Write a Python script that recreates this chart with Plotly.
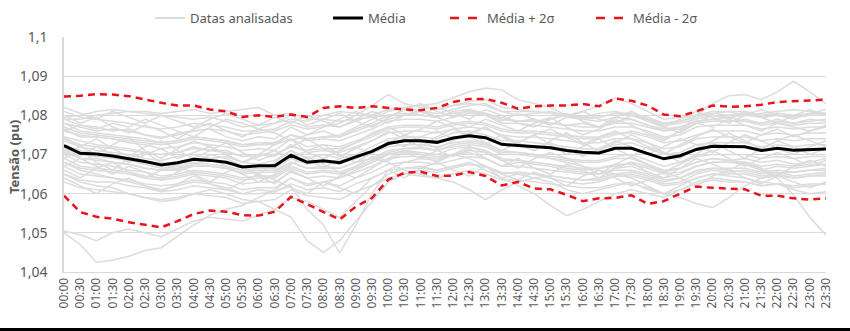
import plotly.graph_objects as go

# Half-hour time stamps (x categories)
horarios = [f"{h:02d}:{m:02d}" for h in range(24) for m in (0, 30)]

# Voltage statistics per time stamp (pu)
media = [1.0723, 1.0703, 1.0701, 1.0696, 1.0689, 1.0682, 1.0673, 1.0679, 1.0688, 1.0685,
         1.0680, 1.0668, 1.0671, 1.0671, 1.0698, 1.0680, 1.0684, 1.0679, 1.0694, 1.0708,
         1.0728, 1.0735, 1.0735, 1.0731, 1.0742, 1.0748, 1.0743, 1.0726, 1.0723, 1.0720,
         1.0717, 1.0710, 1.0706, 1.0704, 1.0716, 1.0716, 1.0703, 1.0689, 1.0697, 1.0713,
         1.0721, 1.0720, 1.0720, 1.0710, 1.0716, 1.0711, 1.0713, 1.0714]

media_mais_2s = [1.0848, 1.0850, 1.0854, 1.0853, 1.0849, 1.0840, 1.0832, 1.0825, 1.0825, 1.0815,
                 1.0810, 1.0796, 1.0800, 1.0796, 1.0802, 1.0796, 1.0819, 1.0823, 1.0819, 1.0823,
                 1.0819, 1.0815, 1.0813, 1.0819, 1.0834, 1.0842, 1.0842, 1.0832, 1.0817, 1.0823,
                 1.0825, 1.0825, 1.0829, 1.0823, 1.0843, 1.0837, 1.0825, 1.0802, 1.0798, 1.0810,
                 1.0825, 1.0822, 1.0823, 1.0827, 1.0834, 1.0836, 1.0838, 1.0840]

media_menos_2s = [1.0595, 1.0553, 1.0541, 1.0536, 1.0527, 1.0520, 1.0514, 1.0530, 1.0548, 1.0557,
                  1.0554, 1.0545, 1.0544, 1.0554, 1.0592, 1.0573, 1.0553, 1.0534, 1.0567, 1.0589,
                  1.0636, 1.0653, 1.0656, 1.0645, 1.0646, 1.0655, 1.0645, 1.0621, 1.0630, 1.0613,
                  1.0611, 1.0597, 1.0581, 1.0588, 1.0589, 1.0596, 1.0574, 1.0581, 1.0600, 1.0618,
                  1.0615, 1.0613, 1.0611, 1.0595, 1.0595, 1.0588, 1.0585, 1.0588]

# Measured profiles of the analysed dates (pu)
datas_analisadas = [
    [1.0795,1.0800,1.0810,1.0815,1.0810,1.0805,1.0800,1.0795,1.0790,1.0795,1.0785,1.0770,1.0775,1.0780,1.0790,1.0785,1.0800,1.0810,1.0805,1.0800,1.0815,1.0820,1.0810,1.0805,1.0815,1.0825,1.0830,1.0810,1.0800,1.0805,1.0810,1.0800,1.0795,1.0805,1.0810,1.0800,1.0790,1.0780,1.0785,1.0795,1.0805,1.0810,1.0800,1.0805,1.0810,1.0815,1.0810,1.0805],
    [1.0500,1.0470,1.0425,1.0430,1.0440,1.0455,1.0462,1.0490,1.0520,1.0545,1.0560,1.0570,1.0590,1.0610,1.0640,1.0620,1.0630,1.0640,1.0660,1.0680,1.0700,1.0710,1.0705,1.0700,1.0715,1.0720,1.0710,1.0690,1.0685,1.0680,1.0675,1.0665,1.0660,1.0665,1.0670,1.0680,1.0670,1.0655,1.0665,1.0680,1.0690,1.0685,1.0690,1.0680,1.0685,1.0675,1.0680,1.0690],
    [1.0505,1.0495,1.0480,1.0500,1.0510,1.0500,1.0490,1.0510,1.0530,1.0540,1.0535,1.0530,1.0545,1.0560,1.0590,1.0580,1.0560,1.0540,1.0580,1.0620,1.0650,1.0665,1.0670,1.0660,1.0670,1.0680,1.0660,1.0640,1.0650,1.0640,1.0630,1.0610,1.0600,1.0610,1.0620,1.0630,1.0610,1.0600,1.0620,1.0640,1.0650,1.0645,1.0640,1.0630,1.0625,1.0610,1.0600,1.0605],
    [1.0650,1.0630,1.0620,1.0615,1.0600,1.0590,1.0580,1.0585,1.0600,1.0610,1.0600,1.0585,1.0580,1.0560,1.0540,1.0480,1.0450,1.0480,1.0530,1.0580,1.0630,1.0650,1.0660,1.0655,1.0665,1.0675,1.0670,1.0650,1.0655,1.0650,1.0640,1.0630,1.0625,1.0630,1.0645,1.0650,1.0640,1.0625,1.0630,1.0650,1.0660,1.0655,1.0660,1.0650,1.0655,1.0645,1.0650,1.0655],
    [1.0680,1.0660,1.0650,1.0640,1.0630,1.0620,1.0610,1.0620,1.0630,1.0625,1.0615,1.0600,1.0610,1.0605,1.0620,1.0560,1.0520,1.0448,1.0520,1.0600,1.0660,1.0680,1.0690,1.0685,1.0700,1.0705,1.0690,1.0670,1.0680,1.0675,1.0670,1.0660,1.0655,1.0650,1.0665,1.0670,1.0655,1.0640,1.0650,1.0670,1.0680,1.0680,1.0675,1.0660,1.0670,1.0665,1.0670,1.0675],
    [1.0760,1.0750,1.0745,1.0740,1.0735,1.0730,1.0725,1.0730,1.0740,1.0735,1.0730,1.0720,1.0725,1.0725,1.0750,1.0740,1.0745,1.0750,1.0770,1.0790,1.0810,1.0820,1.0825,1.0830,1.0845,1.0860,1.0870,1.0865,1.0840,1.0830,1.0820,1.0800,1.0790,1.0785,1.0795,1.0790,1.0775,1.0760,1.0770,1.0785,1.0790,1.0785,1.0790,1.0780,1.0785,1.0780,1.0785,1.0790],
    [1.0780,1.0770,1.0760,1.0765,1.0760,1.0750,1.0745,1.0750,1.0760,1.0765,1.0760,1.0750,1.0755,1.0760,1.0775,1.0765,1.0770,1.0780,1.0800,1.0825,1.0853,1.0830,1.0820,1.0815,1.0825,1.0835,1.0840,1.0820,1.0815,1.0810,1.0805,1.0795,1.0790,1.0795,1.0805,1.0800,1.0790,1.0775,1.0780,1.0790,1.0800,1.0795,1.0800,1.0795,1.0800,1.0795,1.0800,1.0800],
    [1.0740,1.0725,1.0720,1.0715,1.0710,1.0705,1.0700,1.0705,1.0715,1.0710,1.0705,1.0695,1.0700,1.0700,1.0720,1.0710,1.0715,1.0715,1.0730,1.0745,1.0765,1.0770,1.0770,1.0765,1.0775,1.0780,1.0775,1.0760,1.0755,1.0755,1.0750,1.0745,1.0740,1.0740,1.0750,1.0760,1.0750,1.0735,1.0760,1.0800,1.0830,1.0850,1.0853,1.0840,1.0860,1.0887,1.0860,1.0830],
    [1.0700,1.0680,1.0675,1.0670,1.0660,1.0655,1.0645,1.0650,1.0660,1.0655,1.0650,1.0640,1.0645,1.0645,1.0670,1.0655,1.0660,1.0655,1.0670,1.0685,1.0705,1.0715,1.0715,1.0710,1.0720,1.0725,1.0720,1.0700,1.0700,1.0695,1.0690,1.0685,1.0680,1.0680,1.0690,1.0690,1.0675,1.0660,1.0665,1.0680,1.0690,1.0685,1.0680,1.0660,1.0640,1.0596,1.0540,1.0494],
    [1.0690,1.0670,1.0665,1.0660,1.0655,1.0645,1.0640,1.0645,1.0655,1.0650,1.0645,1.0635,1.0640,1.0640,1.0665,1.0650,1.0655,1.0650,1.0665,1.0680,1.0700,1.0705,1.0700,1.0695,1.0700,1.0690,1.0670,1.0640,1.0620,1.0600,1.0570,1.0544,1.0560,1.0580,1.0600,1.0610,1.0600,1.0590,1.0610,1.0630,1.0640,1.0635,1.0630,1.0620,1.0625,1.0615,1.0620,1.0625],
    [1.0710,1.0690,1.0685,1.0680,1.0675,1.0665,1.0660,1.0665,1.0675,1.0670,1.0665,1.0655,1.0660,1.0660,1.0680,1.0665,1.0670,1.0665,1.0680,1.0690,1.0680,1.0660,1.0650,1.0640,1.0630,1.0610,1.0585,1.0610,1.0630,1.0640,1.0645,1.0640,1.0635,1.0640,1.0650,1.0655,1.0645,1.0630,1.0640,1.0655,1.0665,1.0660,1.0655,1.0645,1.0650,1.0640,1.0645,1.0650],
    [1.0720,1.0700,1.0695,1.0690,1.0685,1.0675,1.0665,1.0670,1.0680,1.0675,1.0670,1.0660,1.0665,1.0665,1.0690,1.0675,1.0680,1.0675,1.0690,1.0705,1.0720,1.0725,1.0725,1.0720,1.0730,1.0735,1.0730,1.0710,1.0705,1.0700,1.0690,1.0680,1.0670,1.0660,1.0650,1.0640,1.0620,1.0600,1.0590,1.0575,1.0564,1.0590,1.0620,1.0640,1.0650,1.0655,1.0660,1.0665],
    [1.0770,1.0755,1.0750,1.0745,1.0740,1.0735,1.0730,1.0735,1.0745,1.0740,1.0735,1.0725,1.0730,1.0730,1.0750,1.0740,1.0745,1.0745,1.0760,1.0775,1.0790,1.0800,1.0800,1.0795,1.0805,1.0810,1.0805,1.0790,1.0785,1.0785,1.0790,1.0800,1.0810,1.0825,1.0845,1.0830,1.0810,1.0790,1.0795,1.0800,1.0805,1.0800,1.0805,1.0795,1.0800,1.0795,1.0800,1.0800],
    [1.0765,1.0745,1.0745,1.0740,1.0730,1.0725,1.0715,1.0720,1.0730,1.0725,1.0720,1.0710,1.0715,1.0710,1.0740,1.0720,1.0725,1.0720,1.0735,1.0750,1.0770,1.0775,1.0775,1.0770,1.0780,1.0785,1.0780,1.0765,1.0760,1.0760,1.0755,1.0750,1.0745,1.0745,1.0755,1.0755,1.0745,1.0730,1.0735,1.0750,1.0760,1.0760,1.0760,1.0750,1.0755,1.0750,1.0755,1.0755],
    [1.0680,1.0665,1.0660,1.0655,1.0650,1.0640,1.0635,1.0640,1.0650,1.0645,1.0640,1.0625,1.0630,1.0630,1.0655,1.0640,1.0645,1.0640,1.0655,1.0670,1.0690,1.0695,1.0695,1.0690,1.0700,1.0710,1.0705,1.0685,1.0685,1.0680,1.0675,1.0670,1.0665,1.0665,1.0675,1.0675,1.0665,1.0650,1.0655,1.0670,1.0680,1.0680,1.0680,1.0670,1.0675,1.0670,1.0675,1.0675],
    [1.0790,1.0775,1.0770,1.0760,1.0765,1.0750,1.0740,1.0755,1.0760,1.0765,1.0745,1.0735,1.0745,1.0740,1.0770,1.0750,1.0760,1.0745,1.0765,1.0780,1.0800,1.0800,1.0810,1.0795,1.0810,1.0815,1.0805,1.0795,1.0785,1.0790,1.0780,1.0775,1.0780,1.0770,1.0785,1.0790,1.0775,1.0765,1.0770,1.0785,1.0790,1.0795,1.0785,1.0780,1.0790,1.0780,1.0790,1.0785],
    [1.0650,1.0635,1.0630,1.0630,1.0620,1.0615,1.0605,1.0610,1.0620,1.0615,1.0610,1.0600,1.0600,1.0605,1.0625,1.0610,1.0615,1.0605,1.0625,1.0640,1.0660,1.0665,1.0665,1.0660,1.0670,1.0675,1.0670,1.0655,1.0650,1.0650,1.0645,1.0640,1.0635,1.0635,1.0645,1.0645,1.0635,1.0620,1.0625,1.0640,1.0650,1.0650,1.0650,1.0640,1.0645,1.0640,1.0645,1.0645],
    [1.0735,1.0720,1.0710,1.0705,1.0700,1.0690,1.0685,1.0695,1.0700,1.0690,1.0695,1.0680,1.0675,1.0685,1.0710,1.0690,1.0700,1.0690,1.0700,1.0720,1.0740,1.0745,1.0745,1.0740,1.0755,1.0760,1.0750,1.0735,1.0735,1.0730,1.0725,1.0720,1.0715,1.0715,1.0725,1.0730,1.0715,1.0700,1.0705,1.0725,1.0730,1.0730,1.0730,1.0720,1.0725,1.0720,1.0725,1.0725],
    [1.0705,1.0690,1.0690,1.0680,1.0675,1.0665,1.0660,1.0660,1.0670,1.0670,1.0665,1.0650,1.0655,1.0655,1.0680,1.0665,1.0665,1.0665,1.0680,1.0690,1.0710,1.0715,1.0720,1.0710,1.0725,1.0730,1.0725,1.0705,1.0705,1.0700,1.0695,1.0690,1.0685,1.0685,1.0695,1.0700,1.0685,1.0670,1.0680,1.0695,1.0700,1.0700,1.0700,1.0690,1.0695,1.0690,1.0695,1.0695],
    [1.0780,1.0760,1.0755,1.0750,1.0745,1.0740,1.0730,1.0735,1.0745,1.0740,1.0735,1.0725,1.0725,1.0730,1.0750,1.0735,1.0740,1.0735,1.0750,1.0765,1.0785,1.0790,1.0790,1.0785,1.0795,1.0805,1.0800,1.0780,1.0780,1.0775,1.0770,1.0765,1.0760,1.0760,1.0770,1.0770,1.0760,1.0745,1.0750,1.0770,1.0775,1.0775,1.0775,1.0765,1.0770,1.0765,1.0770,1.0770],
    [1.0670,1.0650,1.0645,1.0640,1.0635,1.0625,1.0620,1.0625,1.0635,1.0630,1.0625,1.0610,1.0615,1.0615,1.0640,1.0625,1.0630,1.0620,1.0640,1.0655,1.0675,1.0680,1.0680,1.0675,1.0685,1.0695,1.0690,1.0670,1.0670,1.0665,1.0660,1.0655,1.0650,1.0650,1.0660,1.0660,1.0650,1.0635,1.0640,1.0660,1.0665,1.0665,1.0665,1.0655,1.0660,1.0655,1.0660,1.0660],
    [1.0745,1.0735,1.0725,1.0720,1.0715,1.0705,1.0700,1.0705,1.0720,1.0710,1.0710,1.0695,1.0700,1.0695,1.0725,1.0705,1.0710,1.0705,1.0720,1.0735,1.0755,1.0760,1.0760,1.0755,1.0765,1.0770,1.0765,1.0750,1.0745,1.0745,1.0740,1.0735,1.0730,1.0730,1.0740,1.0740,1.0730,1.0715,1.0720,1.0740,1.0745,1.0745,1.0745,1.0735,1.0740,1.0735,1.0740,1.0740],
    [1.0630,1.0615,1.0610,1.0605,1.0600,1.0590,1.0585,1.0590,1.0600,1.0595,1.0590,1.0575,1.0580,1.0585,1.0610,1.0595,1.0590,1.0585,1.0605,1.0620,1.0640,1.0650,1.0645,1.0640,1.0650,1.0660,1.0650,1.0635,1.0635,1.0630,1.0625,1.0620,1.0615,1.0615,1.0625,1.0625,1.0615,1.0600,1.0610,1.0625,1.0635,1.0630,1.0630,1.0620,1.0625,1.0620,1.0625,1.0625],
    [1.0810,1.0795,1.0790,1.0785,1.0780,1.0770,1.0765,1.0770,1.0780,1.0775,1.0770,1.0760,1.0760,1.0765,1.0785,1.0770,1.0775,1.0770,1.0785,1.0800,1.0815,1.0820,1.0825,1.0815,1.0825,1.0830,1.0825,1.0810,1.0810,1.0810,1.0805,1.0800,1.0795,1.0795,1.0805,1.0805,1.0795,1.0780,1.0785,1.0800,1.0810,1.0810,1.0810,1.0800,1.0805,1.0800,1.0805,1.0805],
    [1.0725,1.0710,1.0700,1.0700,1.0690,1.0680,1.0680,1.0675,1.0690,1.0690,1.0680,1.0670,1.0670,1.0675,1.0695,1.0685,1.0680,1.0685,1.0690,1.0710,1.0725,1.0740,1.0730,1.0735,1.0740,1.0750,1.0745,1.0725,1.0725,1.0720,1.0720,1.0710,1.0705,1.0705,1.0715,1.0720,1.0700,1.0690,1.0695,1.0715,1.0720,1.0720,1.0720,1.0710,1.0715,1.0710,1.0715,1.0715],
    [1.0790,1.0790,1.0800,1.0805,1.0810,1.0810,1.0805,1.0810,1.0815,1.0805,1.0810,1.0815,1.0820,1.0800,1.0805,1.0790,1.0790,1.0785,1.0790,1.0795,1.0800,1.0805,1.0800,1.0795,1.0805,1.0810,1.0805,1.0790,1.0785,1.0785,1.0780,1.0775,1.0770,1.0770,1.0780,1.0780,1.0770,1.0760,1.0765,1.0780,1.0785,1.0785,1.0785,1.0775,1.0780,1.0775,1.0780,1.0780],
    [1.0760,1.0775,1.0765,1.0780,1.0770,1.0790,1.0775,1.0760,1.0745,1.0770,1.0790,1.0780,1.0765,1.0755,1.0735,1.0750,1.0770,1.0790,1.0810,1.0795,1.0780,1.0800,1.0815,1.0795,1.0780,1.0770,1.0790,1.0775,1.0760,1.0780,1.0795,1.0770,1.0750,1.0765,1.0790,1.0775,1.0755,1.0740,1.0760,1.0780,1.0770,1.0790,1.0775,1.0760,1.0780,1.0770,1.0760,1.0775],
    [1.0690,1.0710,1.0680,1.0660,1.0690,1.0705,1.0680,1.0660,1.0675,1.0700,1.0690,1.0670,1.0650,1.0680,1.0710,1.0690,1.0665,1.0690,1.0720,1.0700,1.0735,1.0720,1.0745,1.0760,1.0740,1.0755,1.0730,1.0710,1.0730,1.0750,1.0725,1.0700,1.0720,1.0740,1.0715,1.0695,1.0720,1.0705,1.0680,1.0700,1.0730,1.0710,1.0690,1.0715,1.0735,1.0720,1.0700,1.0715],
    [1.0745,1.0720,1.0700,1.0725,1.0745,1.0710,1.0690,1.0715,1.0735,1.0720,1.0700,1.0680,1.0700,1.0725,1.0740,1.0705,1.0690,1.0710,1.0730,1.0755,1.0770,1.0750,1.0765,1.0785,1.0770,1.0750,1.0770,1.0745,1.0730,1.0750,1.0765,1.0745,1.0725,1.0745,1.0760,1.0740,1.0720,1.0700,1.0725,1.0745,1.0765,1.0745,1.0730,1.0750,1.0765,1.0745,1.0760,1.0770],
    [1.0660,1.0640,1.0665,1.0680,1.0655,1.0640,1.0660,1.0675,1.0650,1.0630,1.0655,1.0670,1.0645,1.0625,1.0660,1.0640,1.0620,1.0645,1.0670,1.0695,1.0685,1.0705,1.0690,1.0710,1.0695,1.0715,1.0690,1.0670,1.0690,1.0665,1.0650,1.0675,1.0660,1.0640,1.0665,1.0680,1.0655,1.0640,1.0665,1.0690,1.0675,1.0660,1.0680,1.0665,1.0645,1.0670,1.0685,1.0670],
    [1.0800,1.0780,1.0795,1.0770,1.0755,1.0775,1.0760,1.0740,1.0765,1.0780,1.0760,1.0745,1.0765,1.0780,1.0800,1.0775,1.0790,1.0805,1.0785,1.0770,1.0795,1.0815,1.0800,1.0820,1.0805,1.0790,1.0815,1.0800,1.0780,1.0770,1.0790,1.0805,1.0785,1.0770,1.0795,1.0810,1.0790,1.0770,1.0755,1.0780,1.0800,1.0790,1.0810,1.0795,1.0780,1.0800,1.0815,1.0800],
    [1.0715,1.0695,1.0720,1.0700,1.0680,1.0700,1.0715,1.0690,1.0705,1.0720,1.0700,1.0680,1.0695,1.0710,1.0690,1.0710,1.0725,1.0700,1.0680,1.0705,1.0730,1.0750,1.0735,1.0715,1.0735,1.0755,1.0770,1.0745,1.0725,1.0710,1.0730,1.0715,1.0695,1.0715,1.0735,1.0720,1.0700,1.0720,1.0740,1.0725,1.0705,1.0730,1.0750,1.0735,1.0715,1.0700,1.0720,1.0735],
    [1.0640,1.0620,1.0600,1.0625,1.0640,1.0620,1.0605,1.0625,1.0645,1.0625,1.0610,1.0630,1.0650,1.0635,1.0615,1.0600,1.0630,1.0615,1.0600,1.0640,1.0660,1.0640,1.0665,1.0680,1.0660,1.0645,1.0670,1.0650,1.0635,1.0655,1.0640,1.0620,1.0645,1.0660,1.0640,1.0620,1.0635,1.0655,1.0640,1.0620,1.0645,1.0660,1.0640,1.0625,1.0645,1.0630,1.0615,1.0630],
    [1.0820,1.0805,1.0790,1.0810,1.0795,1.0780,1.0800,1.0785,1.0770,1.0790,1.0805,1.0790,1.0775,1.0795,1.0780,1.0800,1.0785,1.0770,1.0790,1.0810,1.0795,1.0815,1.0830,1.0810,1.0795,1.0815,1.0800,1.0785,1.0805,1.0790,1.0775,1.0795,1.0810,1.0790,1.0780,1.0800,1.0785,1.0770,1.0790,1.0810,1.0795,1.0780,1.0800,1.0815,1.0800,1.0790,1.0805,1.0815],
    [1.0700,1.0720,1.0740,1.0715,1.0695,1.0720,1.0735,1.0710,1.0690,1.0710,1.0730,1.0705,1.0685,1.0700,1.0720,1.0740,1.0715,1.0695,1.0715,1.0735,1.0760,1.0740,1.0720,1.0745,1.0765,1.0745,1.0725,1.0750,1.0730,1.0710,1.0735,1.0755,1.0730,1.0710,1.0730,1.0750,1.0730,1.0705,1.0690,1.0715,1.0735,1.0755,1.0735,1.0715,1.0735,1.0750,1.0735,1.0720],
    [1.0670,1.0690,1.0670,1.0650,1.0670,1.0655,1.0635,1.0655,1.0675,1.0690,1.0670,1.0650,1.0630,1.0650,1.0675,1.0695,1.0675,1.0655,1.0640,1.0665,1.0690,1.0710,1.0700,1.0680,1.0700,1.0720,1.0705,1.0685,1.0665,1.0690,1.0705,1.0690,1.0670,1.0650,1.0675,1.0695,1.0675,1.0655,1.0675,1.0695,1.0710,1.0690,1.0670,1.0690,1.0705,1.0690,1.0670,1.0685],
]

y_ticks = [1.04, 1.05, 1.06, 1.07, 1.08, 1.09, 1.10]
y_tick_text = ["1,04", "1,05", "1,06", "1,07", "1,08", "1,09", "1,1"]

FONT = "Noto Sans"
TXT = "#595959"
GRID = "#d9d9d9"
GRAY = "#dcdcdc"
RED = "#e8141c"
DASH = "7px,5px"

# Plot area in pixels (used to place the hand-drawn legend and the bottom rule)
L, R, T, B, W, H = 64, 24, 37, 59, 850, 331
PW, PH = W - L - R, H - T - B


def px_x(px):
    return (px - L) / PW


def px_y(py):
    return (H - B - py) / PH


fig = go.Figure()

for serie in datas_analisadas:
    fig.add_trace(go.Scatter(
        x=horarios, y=serie, mode="lines",
        line=dict(color=GRAY, width=1.5),
        name="Datas analisadas", showlegend=False, hoverinfo="skip",
    ))

fig.add_trace(go.Scatter(x=horarios, y=media, mode="lines", name="Média",
                         line=dict(color="black", width=3), showlegend=False))
fig.add_trace(go.Scatter(x=horarios, y=media_mais_2s, mode="lines", name="Média + 2σ",
                         line=dict(color=RED, width=2.5, dash=DASH), showlegend=False))
fig.add_trace(go.Scatter(x=horarios, y=media_menos_2s, mode="lines", name="Média - 2σ",
                         line=dict(color=RED, width=2.5, dash=DASH), showlegend=False))

# Legend row: (sample start px, sample end px, label, line style)
legenda = [
    (155, 185, "Datas analisadas", dict(color=GRAY, width=2)),
    (333, 363, "Média", dict(color="black", width=3)),
    (450, 482, "Média + 2σ", dict(color=RED, width=2.5, dash="dash")),
    (596, 628, "Média - 2σ", dict(color=RED, width=2.5, dash="dash")),
]
shapes = []
annotations = []
LEG_Y = 18
for x0, x1, label, style in legenda:
    shapes.append(dict(type="line", xref="paper", yref="paper",
                       x0=px_x(x0), x1=px_x(x1), y0=px_y(LEG_Y), y1=px_y(LEG_Y),
                       line=style))
    annotations.append(dict(text=label, xref="paper", yref="paper",
                            x=px_x(x1 + 3), y=px_y(LEG_Y), xanchor="left", yanchor="middle",
                            showarrow=False, font=dict(family=FONT, size=13, color=TXT)))

# Axis title, placed by hand next to the tick labels
annotations.append(dict(text="<b>Tensão (pu)</b>", xref="paper", yref="paper",
                        x=px_x(14), y=px_y(157), textangle=-90,
                        xanchor="center", yanchor="middle", showarrow=False,
                        font=dict(family=FONT, size=13, color=TXT)))

# Thin black rule along the bottom edge
shapes.append(dict(type="rect", xref="paper", yref="paper",
                   x0=px_x(0), x1=px_x(W), y0=px_y(331), y1=px_y(328),
                   fillcolor="black", line=dict(width=0)))

fig.update_layout(
    width=W, height=H,
    margin=dict(l=L, r=R, t=T, b=B, autoexpand=False),
    paper_bgcolor="white", plot_bgcolor="white",
    font=dict(family=FONT, color=TXT, size=12),
    showlegend=False,
    xaxis=dict(
        type="category", range=[0, len(horarios) - 1], automargin=False,
        tickangle=-90, tickfont=dict(size=12, color=TXT),
        showgrid=False, showline=True, linecolor=GRID, linewidth=1,
        ticks="", zeroline=False,
    ),
    yaxis=dict(
        range=[1.04, 1.10], tickvals=y_ticks, ticktext=y_tick_text, automargin=False,
        tickfont=dict(size=14, color=TXT), ticklabelstandoff=12,
        showgrid=True, gridcolor=GRID, gridwidth=1,
        showline=True, linecolor=GRID, linewidth=1.5, zeroline=False,
    ),
    shapes=shapes,
    annotations=annotations,
)

fig.write_html("out.html")
